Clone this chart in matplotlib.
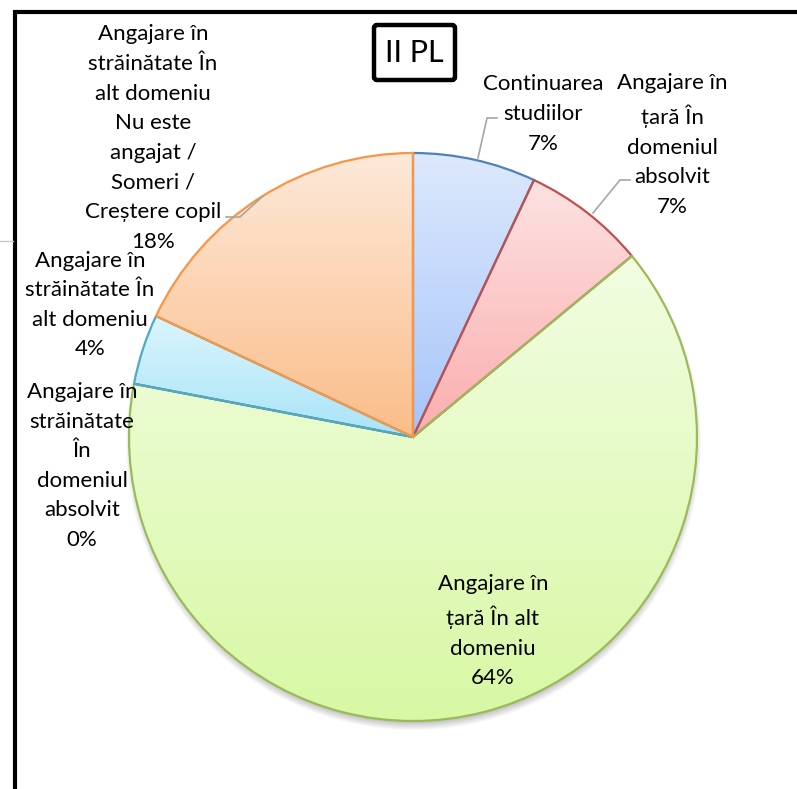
import numpy as np
import matplotlib.pyplot as plt
from matplotlib.colors import to_rgb
from matplotlib.patches import FancyBboxPatch

plt.rcParams['font.family'] = ['Lato', 'DejaVu Sans']

# date: situatia absolventilor, II PL
categorii = ['Continuarea\nstudiilor',
             'Angajare în\nțară În\ndomeniul\nabsolvit',
             'Angajare în\nțară În alt\ndomeniu',
             'Angajare în\nstrăinătate\nÎn\ndomeniul\nabsolvit',
             'Angajare în\nstrăinătate În\nalt domeniu',
             'Angajare în\nstrăinătate În\nalt domeniu\nNu este\nangajat /\nSomeri /\nCreștere copil']
procente = [7, 7, 64, 0, 4, 18]

culori_margine = ['#4f81bd', '#c0504d', '#9bbb59', '#8064a2', '#4bacc6', '#f79646']
culori_sus = ['#dde9fc', '#fde2e2', '#f2fde2', '#e6ddf1', '#dbf5fc', '#fde9d9']
culori_jos = ['#a6c4fa', '#fbadad', '#d8f8a4', '#c5b2e0', '#a8e4f8', '#fbbd89']

# pozitia etichetelor (centru, in pixeli de sus)
pozitii = [(543, 114), (672, 145), (493, 631), (82, 466), (90, 305), (153, 138)]

W, H = 797, 789
fig = plt.figure(figsize=(W / 100, H / 100), dpi=100)
ax = fig.add_axes([0, 0, 1, 1])

cx, cy, R = 413, H - 437, 284

wedges, _ = ax.pie(procente, startangle=90, counterclock=False,
                   center=(cx, cy), radius=R,
                   wedgeprops=dict(linewidth=1.6))

# umbra sub cerc
xx, yy = np.meshgrid(np.arange(0, W), np.arange(0, H))
d = np.hypot(xx - cx, yy - (cy - 6))
alfa = np.clip((R + 4 - d) / 9, 0, 1) * 0.45
umbra = np.zeros((H, W, 4))
umbra[..., :3] = 0.45
umbra[..., 3] = alfa
ax.imshow(umbra, extent=(0, W, 0, H), origin='lower', zorder=0.5,
          interpolation='bilinear')

# gradient vertical in fiecare felie
for w, c1, c2, ce in zip(wedges, culori_sus, culori_jos, culori_margine):
    w.set_facecolor('none')
    w.set_edgecolor(ce)
    w.set_zorder(3)
    t = np.radians(np.linspace(w.theta1, w.theta2, 200))
    px = np.concatenate([[cx], cx + R * np.cos(t)])
    py = np.concatenate([[cy], cy + R * np.sin(t)])
    y0, y1 = py.min(), py.max()
    if y1 - y0 < 1:
        continue
    g = np.linspace(0, 1, 256)[:, None]
    a, b = np.array(to_rgb(c1)), np.array(to_rgb(c2))
    img = (b + (a - b) * g)[:, None, :].repeat(2, axis=1)
    im = ax.imshow(img, extent=(px.min(), px.max(), y0, y1), origin='lower',
                   aspect='auto', zorder=2, interpolation='bilinear')
    im.set_clip_path(w)

# etichete
for cat, p, (tx, ty) in zip(categorii, procente, pozitii):
    ax.text(tx, H - ty, f'{cat}\n{p}%', ha='center', va='center',
            fontsize=16, linespacing=1.6, color='black', zorder=5)

# linii de legatura
gri = '#a6a6a6'
ax.plot([478, 487, 497], [H - 158, H - 118, H - 118], color=gri, lw=1.2, zorder=4)
ax.plot([593, 620, 630], [H - 213, H - 180, H - 180], color=gri, lw=1.2, zorder=4)
ax.plot([263, 240, 226], [H - 196, H - 217, H - 217], color=gri, lw=1.2, zorder=4)

# titlu in chenar
ax.add_patch(FancyBboxPatch((374, H - 80), 81, 55,
                            boxstyle='round,pad=0,rounding_size=3',
                            fc='white', ec='black', lw=3.2, zorder=5))
ax.text(414.5, H - 53, 'II PL', ha='center', va='center', fontsize=22, zorder=6)

# chenarul graficului
ax.plot([15.5, 15.5], [H - 10, 0], color='black', lw=3, zorder=6,
        solid_capstyle='butt')
ax.plot([14, W], [H - 11.5, H - 11.5], color='black', lw=3, zorder=6,
        solid_capstyle='butt')
ax.plot([0, 13], [H - 241, H - 241], color='#c8c8c8', lw=1, zorder=6)

ax.set_xlim(0, W)
ax.set_ylim(0, H)
ax.set_aspect('auto')
ax.axis('off')

fig.savefig('out.png', dpi=100, facecolor='white')
